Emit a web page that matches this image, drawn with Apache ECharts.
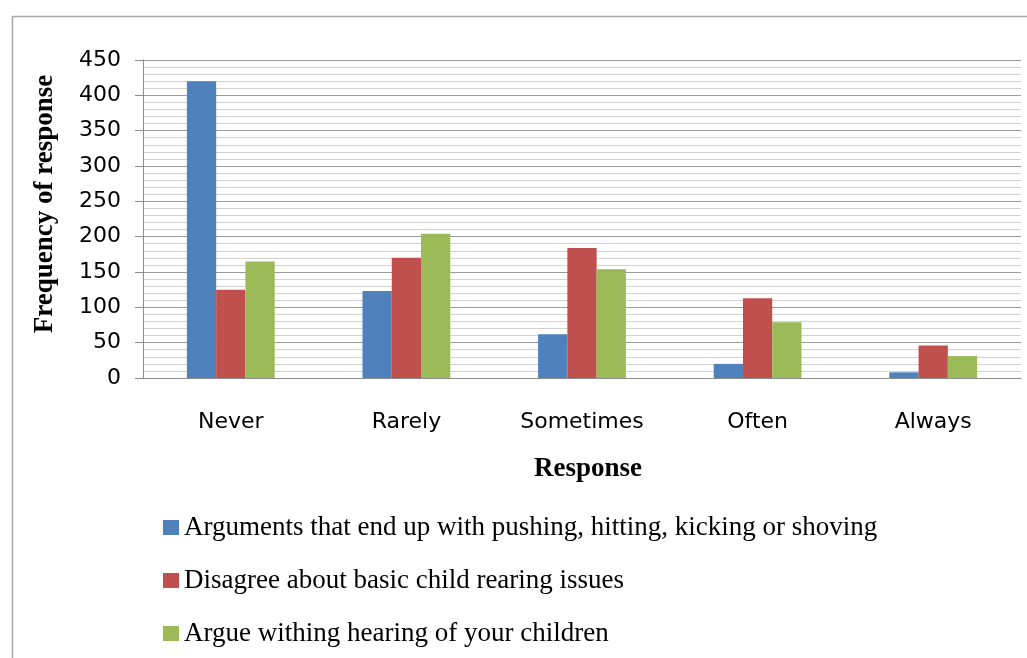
<!DOCTYPE html>
<html>
<head>
<meta charset="utf-8">
<style>
  html, body { margin: 0; padding: 0; background: #ffffff; }
  #chart { width: 1027px; height: 658px; }
</style>
<script src="https://cdn.jsdelivr.net/npm/echarts@6/dist/echarts.min.js"></script>
</head>
<body>
<div id="chart"></div>
<script>
// Response frequencies for three kinds of parental conflict
const categories = ['Never', 'Rarely', 'Sometimes', 'Often', 'Always'];
const seriesNames = [
  'Arguments that end up with pushing, hitting, kicking or shoving',
  'Disagree about basic child rearing issues',
  'Argue withing hearing of your children'
];
const physicalArguments = [420, 123, 62, 20, 8];
const childRearingDisagreement = [125, 170, 184, 113, 46];
const argueNearChildren = [165, 204, 154, 79, 31];
const seriesColors = ['#4f81bd', '#c0504d', '#9bbb59'];

const chart = echarts.init(document.getElementById('chart'), null, { renderer: 'canvas' });

const seriesData = [physicalArguments, childRearingDisagreement, argueNearChildren];

chart.setOption({
  animation: false,
  backgroundColor: '#ffffff',
  color: seriesColors,
  graphic: [
    {
      type: 'polyline',
      shape: { points: [[12.5, 658], [12.5, 16.5], [1027, 16.5]] },
      style: { stroke: '#a6a6a6', lineWidth: 1.5, fill: null },
      silent: true
    }
  ],
  grid: {
    left: 143, right: 6, top: 60, bottom: 280,
    containLabel: false,
    outerBoundsMode: 'none'
  },
  legend: {
    orient: 'vertical',
    left: 158,
    top: 509,
    itemWidth: 16,
    itemHeight: 15,
    itemGap: 26,
    icon: 'rect',
    textStyle: {
      fontFamily: 'Liberation Serif',
      fontSize: 27,
      lineHeight: 27,
      color: '#000000',
      padding: [0, 0, 0, 0]
    },
    data: seriesNames
  },
  xAxis: {
    type: 'category',
    data: categories,
    name: 'Response',
    nameLocation: 'middle',
    nameGap: 78,
    nameTextStyle: {
      fontFamily: 'Liberation Serif',
      fontWeight: 'bold',
      fontSize: 27,
      color: '#000000',
      padding: [0, 0, 0, 12]
    },
    axisLine: { show: true, lineStyle: { color: '#8c8c8c', width: 1 } },
    axisTick: { show: false },
    axisLabel: {
      margin: 33,
      fontFamily: 'DejaVu Sans',
      fontSize: 22,
      color: '#000000'
    }
  },
  yAxis: {
    type: 'value',
    min: 0,
    max: 450,
    interval: 50,
    name: 'Frequency of response',
    nameLocation: 'middle',
    nameGap: 84,
    nameRotate: 90,
    nameTextStyle: {
      fontFamily: 'Liberation Serif',
      fontWeight: 'bold',
      fontSize: 27,
      color: '#000000',
      padding: [0, 0, 0, 30]
    },
    axisLine: { show: true, lineStyle: { color: '#8c8c8c', width: 1 } },
    axisTick: { show: true, length: 8, lineStyle: { color: '#8c8c8c' } },
    axisLabel: {
      margin: 22,
      fontFamily: 'DejaVu Sans',
      fontSize: 22,
      color: '#000000'
    },
    splitLine: { show: true, lineStyle: { color: '#9a9a9a', width: 1.2 } },
    minorTick: { show: false, splitNumber: 5 },
    minorSplitLine: { show: true, lineStyle: { color: '#d2d2d2', width: 1.2 } }
  },
  series: seriesNames.map((name, i) => ({
    name: name,
    type: 'bar',
    data: seriesData[i],
    barGap: '0%',
    barCategoryGap: '50%',
    itemStyle: { color: seriesColors[i] }
  }))
});
</script>
</body>
</html>
